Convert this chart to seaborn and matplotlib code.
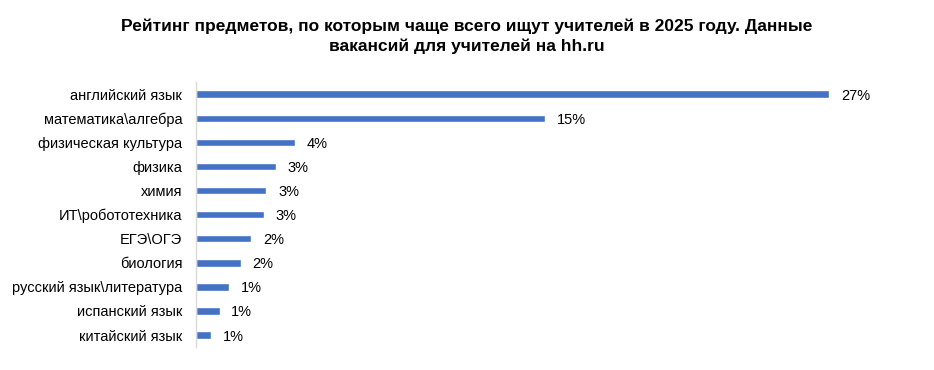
import matplotlib
matplotlib.use("Agg")
import matplotlib.pyplot as plt
import seaborn as sns
import pandas as pd

# Данные (оценка по картинке)
subjects = [
    "английский язык",
    "математика\\алгебра",
    "физическая культура",
    "физика",
    "химия",
    "ИТ\\робототехника",
    "ЕГЭ\\ОГЭ",
    "биология",
    "русский язык\\литература",
    "испанский язык",
    "китайский язык",
]
shares = [27.0, 14.9, 4.2, 3.4, 3.0, 2.9, 2.35, 1.9, 1.4, 1.0, 0.65]
labels = ["27%", "15%", "4%", "3%", "3%", "3%", "2%", "2%", "1%", "1%", "1%"]

TITLE = ("Рейтинг предметов, по которым чаще всего ищут учителей в 2025 году. Данные\n"
         "вакансий для учителей на hh.ru")


def main():
    sns.set_style("white")
    plt.rcParams["font.family"] = ["Liberation Sans", "DejaVu Sans"]
    plt.rcParams["text.color"] = "#000000"

    df = pd.DataFrame({"subject": subjects, "share": shares})

    fig = plt.figure(figsize=(9.34, 3.70), dpi=100)
    ax = fig.add_axes([0.21, 0.062, 0.74, 0.716])

    sns.barplot(data=df, x="share", y="subject", orient="h",
                color="#4472C4", saturation=1, width=0.31, ax=ax)

    for i, (v, lab) in enumerate(zip(shares, labels)):
        ax.text(v + 0.5, i, lab, va="center_baseline", ha="left",
                fontsize=10.5, color="#000000")

    ax.set_xlim(0, 29.48)
    ax.set_ylim(10.5, -0.5)
    ax.set_xlabel("")
    ax.set_ylabel("")
    ax.set_xticks([])
    ax.tick_params(axis="y", length=0, pad=10, labelsize=10.5, labelcolor="#000000")
    for s in ["top", "right", "bottom"]:
        ax.spines[s].set_visible(False)
    ax.spines["left"].set_color("#d9d9d9")
    ax.spines["left"].set_linewidth(1)

    fig.text(0.5, 0.95, TITLE, ha="center", va="top", fontsize=12.5,
             fontweight="bold", linespacing=1.4, color="#000000")

    fig.savefig("out.png", dpi=100)
    plt.close(fig)


if __name__ == "__main__":
    main()
